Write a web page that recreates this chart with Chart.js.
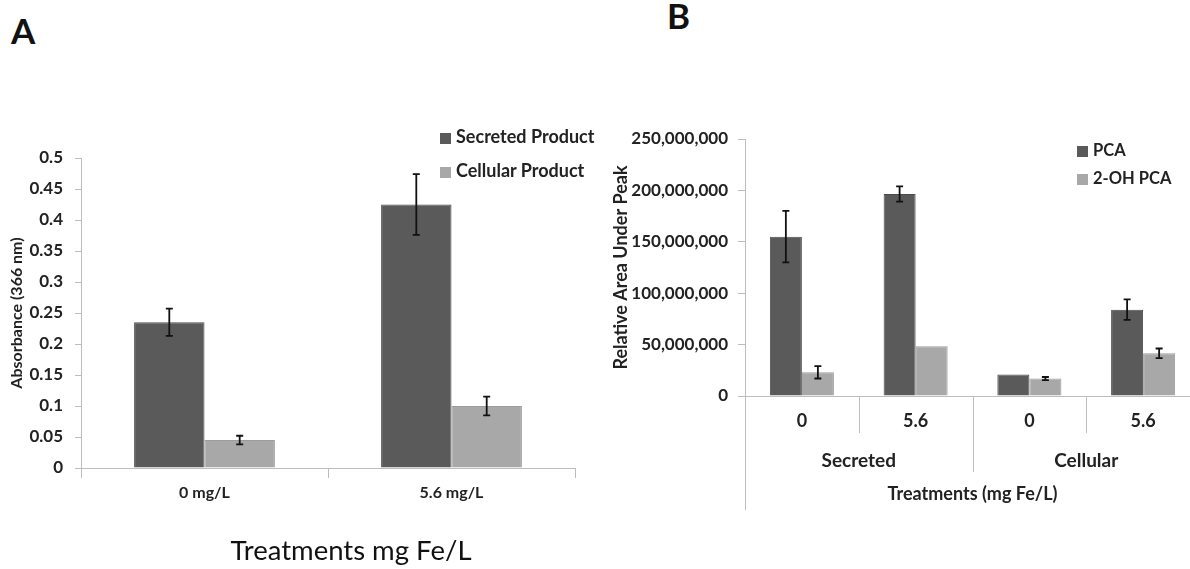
<!DOCTYPE html>
<html>
<head>
<meta charset="utf-8">
<script src="https://cdn.jsdelivr.net/npm/chart.js@4.4.1/dist/chart.umd.min.js"></script>
<style>
  body { margin: 0; width: 1190px; height: 569px; overflow: hidden; background: #fff; position: relative; font-family: Lato, "Open Sans", sans-serif; }
  .letter { position: absolute; font-weight: bold; font-size: 35px; line-height: 1; color: #111; }
  .wrap { position: absolute; top: 0; }
  .legend { position: absolute; font-weight: bold; color: #222; }
  .legend div { position: absolute; white-space: nowrap; line-height: 20px; }
  .legend span { display: inline-block; width: 11px; height: 11px; margin-right: 5px; vertical-align: -1px; }
  #titleA { position: absolute; left: 351px; top: 534px; transform: translateX(-50%); font-size: 27.5px; line-height: 32px; color: #111; white-space: nowrap; }
</style>
</head>
<body>
<div class="letter" style="left:11px;top:13px">A</div>
<div class="letter" style="left:667px;top:-2px">B</div>
<div class="wrap" style="left:0"><canvas id="chartA" width="600" height="569"></canvas></div>
<div class="wrap" style="left:600px"><canvas id="chartB" width="600" height="569"></canvas></div>
<div class="legend" id="legendA" style="left:440px;top:126px;font-size:18px"></div>
<div class="legend" id="legendB" style="left:1077px;top:140px;font-size:16.5px"></div>
<div id="titleA"></div>
<script>
// panel A: absorbance
const treatmentsA = ["0 mg/L", "5.6 mg/L"]
const secreted = [0.235, 0.425]
const secretedErr = [0.022, 0.049]
const cellular = [0.045, 0.1]
const cellularErr = [0.007, 0.015]

// panel B: relative area under peak
const treatmentsB = ["0", "5.6", "0", "5.6"]
const fractions = ["Secreted", "Cellular"]
const pca = [155000000, 196500000, 21000000, 84000000]
const pcaErr = [25000000, 7500000, null, 10000000]
const ohPca = [23000000, 48500000, 17000000, 41500000]
const ohPcaErr = [6000000, null, 1500000, 4700000]

const DARK = "#5a5a5a"
const LIGHT = "#a8a8a8"
const AXIS = "#bdbdbd"
const TEXT = "#222"
const FONT = "Lato, 'Open Sans', sans-serif"

const errorBars = {
  id: "errorBars",
  afterDatasetsDraw(chart) {
    const ctx = chart.ctx
    const y = chart.scales.y
    chart.data.datasets.forEach((ds, i) => {
      if (!ds.errors) return
      const meta = chart.getDatasetMeta(i)
      meta.data.forEach((bar, j) => {
        const e = ds.errors[j]
        if (e == null) return
        const top = y.getPixelForValue(ds.data[j] + e)
        const bot = y.getPixelForValue(ds.data[j] - e)
        ctx.save()
        ctx.strokeStyle = "#111"
        ctx.lineWidth = 1.8
        ctx.beginPath()
        ctx.moveTo(bar.x, top); ctx.lineTo(bar.x, bot)
        ctx.moveTo(bar.x - 3.5, top); ctx.lineTo(bar.x + 3.5, top)
        ctx.moveTo(bar.x - 3.5, bot); ctx.lineTo(bar.x + 3.5, bot)
        ctx.stroke()
        ctx.restore()
      })
    })
  }
}

// separators under the grouped category axis of panel B
const groupLines = {
  id: "groupLines",
  afterDraw(chart) {
    if (!chart.options.plugins.groupLines) return
    const ctx = chart.ctx
    const x = chart.scales.x
    const area = chart.chartArea
    const half = (x.getPixelForTick(1) - x.getPixelForTick(0)) / 2
    ctx.save()
    ctx.strokeStyle = AXIS
    ctx.lineWidth = 1
    const line = (px, len) => {
      ctx.beginPath()
      ctx.moveTo(Math.round(px) + 0.5, area.bottom)
      ctx.lineTo(Math.round(px) + 0.5, area.bottom + len)
      ctx.stroke()
    }
    line(area.left, 114)
    for (let i = 0; i < treatmentsB.length - 1; i++) {
      const px = x.getPixelForTick(i) + half
      line(px, (i + 1) % 2 === 0 ? 76 : 37)
    }
    ctx.restore()
  }
}

function buildLegend(el, chart, gap) {
  el.innerHTML = chart.data.datasets.map((ds, i) =>
    `<div style="top:${i * gap}px"><span style="background:${ds.backgroundColor}"></span>${ds.label}</div>`
  ).join("")
}

const chartA = new Chart(document.getElementById("chartA"), {
  type: "bar",
  data: {
    labels: treatmentsA,
    datasets: [
      { label: "Secreted Product", data: secreted, errors: secretedErr, backgroundColor: DARK, borderColor: "#4c4c4c", borderWidth: 1 },
      { label: "Cellular Product", data: cellular, errors: cellularErr, backgroundColor: LIGHT, borderColor: "#9c9c9c", borderWidth: 1 },
    ],
  },
  options: {
    responsive: false,
    animation: false,
    categoryPercentage: 0.57,
    barPercentage: 1,
    layout: { padding: { top: 158, left: 4, right: 25, bottom: 0 } },
    plugins: { legend: { display: false }, tooltip: { enabled: false } },
    scales: {
      x: {
        title: { text: "Treatments mg Fe/L" },
        grid: { drawOnChartArea: false, color: AXIS, tickLength: 10 },
        border: { color: AXIS },
        ticks: { color: TEXT, font: { family: FONT, size: 16, weight: "bold" }, padding: 5 },
        afterFit(s) { s.height = 101 },
      },
      y: {
        min: 0,
        max: 0.5,
        grid: { drawOnChartArea: false, color: AXIS, tickLength: 6 },
        border: { color: AXIS },
        ticks: { stepSize: 0.05, color: TEXT, font: { family: FONT, size: 17, weight: "bold" }, padding: 12, callback: v => String(+v.toFixed(2)) },
        title: { display: true, text: "Absorbance (366 nm)", color: TEXT, font: { family: FONT, size: 16, weight: "bold" }, padding: { top: 3, bottom: 0 } },
        afterFit(s) { s.width = 77 },
      },
    },
  },
  plugins: [errorBars],
})

const chartB = new Chart(document.getElementById("chartB"), {
  type: "bar",
  data: {
    labels: treatmentsB,
    datasets: [
      { label: "PCA", data: pca, errors: pcaErr, backgroundColor: DARK, borderColor: "#4c4c4c", borderWidth: 1 },
      { label: "2-OH PCA", data: ohPca, errors: ohPcaErr, backgroundColor: LIGHT, borderColor: "#9c9c9c", borderWidth: 1 },
    ],
  },
  options: {
    responsive: false,
    animation: false,
    categoryPercentage: 0.563,
    barPercentage: 1,
    layout: { padding: { top: 139, left: 6, right: 0, bottom: 57 } },
    plugins: { legend: { display: false }, tooltip: { enabled: false }, groupLines: true },
    scales: {
      x: {
        weight: 0,
        grid: { display: false, drawTicks: false },
        border: { color: AXIS },
        ticks: { color: TEXT, font: { family: FONT, size: 18, weight: "bold" }, padding: 14 },
        afterFit(s) { s.height = 36 },
      },
      x2: {
        type: "category",
        labels: fractions,
        position: "bottom",
        weight: 1,
        grid: { display: false, drawTicks: false },
        border: { display: false },
        ticks: { color: TEXT, font: { family: FONT, size: 19, weight: "bold" }, padding: 17 },
        title: { display: true, text: "Treatments (mg Fe/L)", color: TEXT, font: { family: FONT, size: 18, weight: "bold" }, padding: { top: 0, bottom: 7 } },
        afterFit(s) { s.height = 80 },
      },
      y: {
        min: 0,
        max: 250000000,
        grid: { drawOnChartArea: false, color: AXIS, tickLength: 7 },
        border: { color: AXIS },
        ticks: { stepSize: 50000000, color: TEXT, font: { family: FONT, size: 17, weight: "bold" }, padding: 10, callback: v => v.toLocaleString("en-US") },
        title: { display: true, text: "Relative Area Under Peak", color: TEXT, font: { family: FONT, size: 18, weight: "bold" }, padding: { top: 4, bottom: 0 } },
        afterFit(s) { s.width = 139 },
      },
    },
  },
  plugins: [errorBars, groupLines],
})

buildLegend(document.getElementById("legendA"), chartA, 34)
buildLegend(document.getElementById("legendB"), chartB, 28)
document.getElementById("titleA").textContent = chartA.options.scales.x.title.text
</script>
</body>
</html>
